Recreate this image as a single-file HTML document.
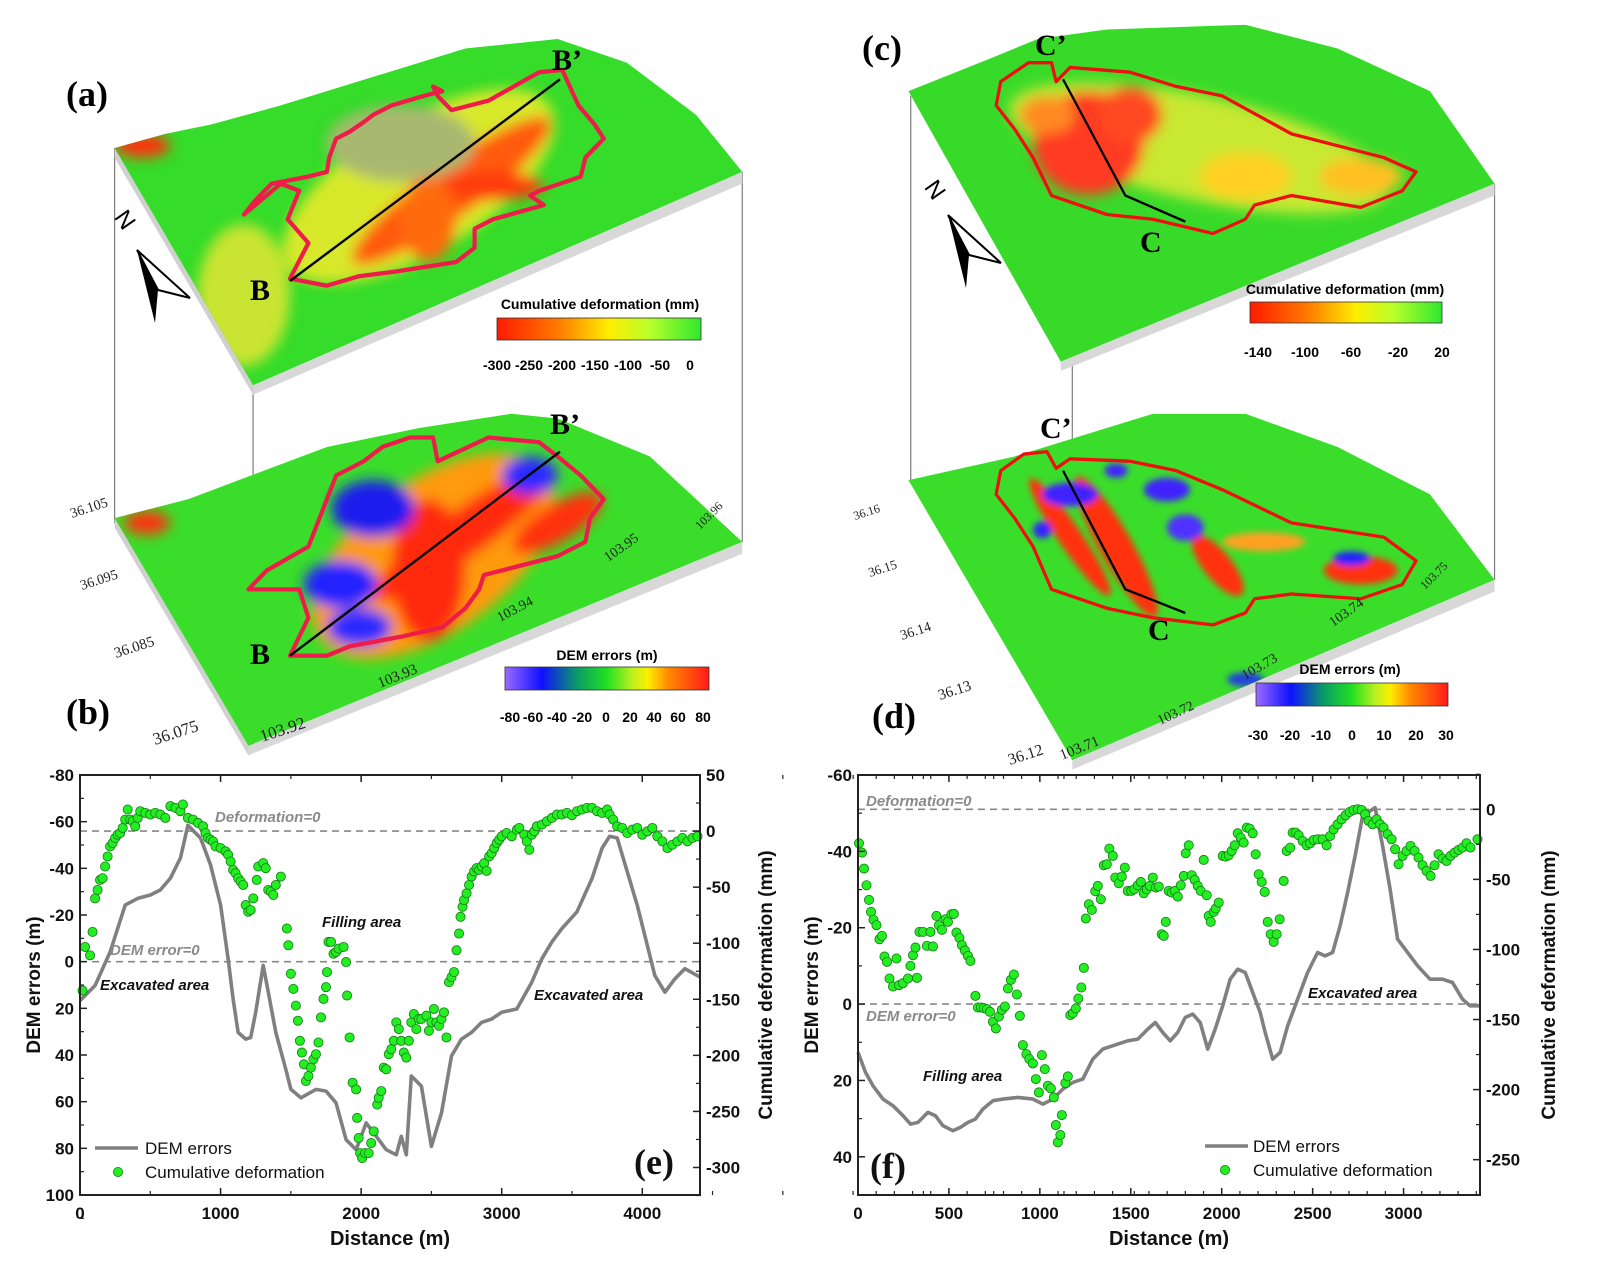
<!DOCTYPE html>
<html><head><meta charset="utf-8"><style>
body{margin:0;background:#fff}
svg{display:block}
.t{font-family:"Liberation Sans",sans-serif;font-weight:bold}
.s{font-family:"Liberation Serif",serif;font-weight:bold}
</style></head><body>
<svg id="S" width="1597" height="1284" viewBox="0 0 1597 1284" xmlns="http://www.w3.org/2000/svg">
<defs>
<filter id="bl" x="-50%" y="-50%" width="200%" height="200%"><feGaussianBlur stdDeviation="14"/></filter>
<filter id="bl2" x="-50%" y="-50%" width="200%" height="200%"><feGaussianBlur stdDeviation="7"/></filter>
<linearGradient id="gdef" x1="0" x2="1"><stop offset="0" stop-color="#ff1a00"/><stop offset="0.3" stop-color="#ff7a00"/><stop offset="0.55" stop-color="#ffee00"/><stop offset="0.75" stop-color="#b8ff2a"/><stop offset="1" stop-color="#2ee82e"/></linearGradient>
<linearGradient id="gdem" x1="0" x2="1"><stop offset="0" stop-color="#9a6bff"/><stop offset="0.18" stop-color="#1010ff"/><stop offset="0.35" stop-color="#0a9a6a"/><stop offset="0.5" stop-color="#22e022"/><stop offset="0.62" stop-color="#b8f020"/><stop offset="0.7" stop-color="#ffee00"/><stop offset="0.8" stop-color="#ff8a00"/><stop offset="1" stop-color="#ff1a1a"/></linearGradient>
<clipPath id="ca"><polygon points="140,270 250,240 350,220 500,180 700,120 900,60 1000,50 1100,40 1250,90 1400,200 1500,320 440,770"/></clipPath>
<clipPath id="cb"><polygon points="140,1050 300,1010 600,900 800,860 1000,830 1100,840 1300,920 1500,1100 430,1530"/></clipPath>
<clipPath id="cc"><polygon points="170,150 350,80 450,40 600,20 900,10 1100,60 1300,150 1440,345 500,720"/></clipPath>
<clipPath id="cd"><polygon points="170,970 400,920 700,830 900,830 1100,900 1300,1000 1440,1180 525,1560"/></clipPath>
</defs>

<g transform="translate(50,20) scale(0.4615,0.4744)">
 <g stroke="#777" stroke-width="2.5" fill="none">
  <line x1="140" y1="270" x2="140" y2="1060"/><line x1="440" y1="770" x2="440" y2="1530"/><line x1="1500" y1="320" x2="1500" y2="1100"/>
 </g>
 <polygon points="440,770 1500,320 1500,345 440,790" fill="#d8d8d8"/>
 <polygon points="430,1530 1500,1100 1500,1125 430,1550" fill="#d8d8d8"/>
 <polygon points="140,270 440,770 440,790 140,290" fill="#d0d0d0"/>
 <polygon points="140,1050 430,1530 430,1550 140,1070" fill="#d0d0d0"/>
 <g clip-path="url(#ca)">
  <rect x="0" y="0" width="1600" height="900" fill="#35dc2a"/>
  <g filter="url(#bl)">
   <ellipse cx="800" cy="350" rx="330" ry="140" fill="#d8e82a" transform="rotate(-30 800 350)"/>
   <ellipse cx="420" cy="580" rx="100" ry="150" fill="#c9e430"/>
   <ellipse cx="870" cy="360" rx="260" ry="55" fill="#ff5a10" transform="rotate(-35 870 360)"/>
   <ellipse cx="960" cy="350" rx="110" ry="30" fill="#ff3a10"/>
   <ellipse cx="820" cy="420" rx="60" ry="90" fill="#ff6a10"/>
   <ellipse cx="760" cy="260" rx="160" ry="80" fill="#a9b870"/>
   <ellipse cx="200" cy="265" rx="60" ry="25" fill="#ff3010"/>
  </g>
 </g>
 <g clip-path="url(#cb)">
  <rect x="0" y="700" width="1600" height="900" fill="#3ade2a"/>
  <g filter="url(#bl)">
   <ellipse cx="830" cy="1130" rx="300" ry="160" fill="#ff9a10" transform="rotate(-35 830 1130)"/>
   <ellipse cx="820" cy="1160" rx="80" ry="150" fill="#ff2a10"/>
   <ellipse cx="900" cy="1080" rx="240" ry="50" fill="#ff2a10" transform="rotate(-35 900 1080)"/>
   <ellipse cx="1100" cy="1060" rx="110" ry="40" fill="#ff3010" transform="rotate(-30 1100 1060)"/>
   <ellipse cx="630" cy="1190" rx="80" ry="50" fill="#2020ff"/>
   <ellipse cx="670" cy="1280" rx="70" ry="40" fill="#2a2aff"/>
   <ellipse cx="700" cy="1030" rx="90" ry="60" fill="#1a1aee"/>
   <ellipse cx="1040" cy="960" rx="60" ry="40" fill="#2a2aff"/>
   <ellipse cx="210" cy="1060" rx="50" ry="25" fill="#ff3010"/>
  </g>
 </g>
 <polygon points="520,545 560,470 515,420 540,360 500,345 420,410 445,380 480,345 560,330 600,320 605,290 620,250 650,235 680,215 700,200 740,180 810,160 850,150 830,140 840,160 870,190 950,170 1060,110 1110,105 1145,180 1180,220 1200,250 1160,290 1150,330 1060,360 1040,370 1070,390 960,420 920,440 920,480 880,510 750,530 670,540 600,560" fill="none" stroke="#ee1c4a" stroke-width="9" stroke-linejoin="round"/>
 <polygon points="520,1340 560,1260 540,1200 430,1200 470,1160 560,1110 600,1010 620,960 680,930 720,900 780,880 830,880 840,930 950,880 1060,890 1100,920 1150,960 1200,1010 1170,1050 1160,1100 1100,1130 1020,1150 940,1170 930,1200 900,1240 850,1280 760,1300 650,1320 600,1340" fill="none" stroke="#ee1c4a" stroke-width="9" stroke-linejoin="round"/>
 <line x1="520" y1="550" x2="1105" y2="125" stroke="#000" stroke-width="5"/>
 <line x1="520" y1="1340" x2="1105" y2="910" stroke="#000" stroke-width="5"/>
</g>

<g transform="translate(830,20) scale(0.4615,0.4744)">
 <g stroke="#777" stroke-width="2.5" fill="none">
  <line x1="175" y1="160" x2="175" y2="975"/><line x1="525" y1="720" x2="525" y2="1560"/><line x1="1440" y1="345" x2="1440" y2="1180"/>
 </g>
 <polygon points="500,720 1440,345 1440,370 500,740" fill="#d8d8d8"/>
 <polygon points="525,1560 1440,1180 1440,1205 525,1580" fill="#d8d8d8"/>
 <g clip-path="url(#cc)">
  <rect x="0" y="0" width="1600" height="800" fill="#38da2a"/>
  <g filter="url(#bl)">
   <ellipse cx="800" cy="270" rx="420" ry="110" fill="#c8e830" transform="rotate(12 800 270)"/>
   <ellipse cx="560" cy="260" rx="120" ry="110" fill="#ff3a20"/>
   <ellipse cx="650" cy="200" rx="70" ry="60" fill="#ff4a20"/>
   <ellipse cx="470" cy="200" rx="60" ry="40" fill="#ff8a20"/>
   <ellipse cx="900" cy="330" rx="100" ry="50" fill="#ffd020"/>
   <ellipse cx="1150" cy="330" rx="90" ry="40" fill="#ffc020"/>
  </g>
 </g>
 <g clip-path="url(#cd)">
  <rect x="0" y="800" width="1600" height="800" fill="#3ade2a"/>
  <g filter="url(#bl2)">
   <ellipse cx="620" cy="1110" rx="170" ry="35" fill="#ff3010" transform="rotate(60 620 1110)"/>
   <ellipse cx="520" cy="1090" rx="150" ry="25" fill="#ff3010" transform="rotate(55 520 1090)"/>
   <ellipse cx="840" cy="1150" rx="80" ry="30" fill="#ff3010" transform="rotate(50 840 1150)"/>
   <ellipse cx="1150" cy="1160" rx="80" ry="30" fill="#ff3010"/>
   <ellipse cx="940" cy="1100" rx="90" ry="20" fill="#ffa020"/>
   <ellipse cx="520" cy="1000" rx="60" ry="25" fill="#4020ff"/>
   <ellipse cx="730" cy="990" rx="50" ry="25" fill="#4020ff"/>
   <ellipse cx="770" cy="1070" rx="40" ry="28" fill="#5030ff"/>
   <ellipse cx="460" cy="1075" rx="20" ry="18" fill="#3020ff"/>
   <ellipse cx="1130" cy="1135" rx="40" ry="15" fill="#2020ff"/>
   <ellipse cx="620" cy="950" rx="25" ry="15" fill="#4020ff"/>
   <ellipse cx="900" cy="1390" rx="40" ry="15" fill="#2040dd"/>
  </g>
 </g>
 <polygon points="490,130 480,90 430,90 370,130 360,180 400,230 440,290 480,370 600,410 700,420 830,450 900,420 920,390 1000,370 1150,395 1240,360 1270,320 1200,290 1000,240 850,160 750,140 650,110 520,100" fill="none" stroke="#ee1010" stroke-width="7" stroke-linejoin="round"/>
 <polygon points="490,945 470,910 420,915 370,950 360,1000 400,1050 440,1110 480,1200 600,1240 700,1260 830,1275 900,1250 920,1220 1000,1210 1150,1220 1240,1190 1270,1140 1200,1090 1000,1060 850,990 750,950 650,930 520,925" fill="none" stroke="#ee1010" stroke-width="7" stroke-linejoin="round"/>
 <polyline points="505,125 640,370 770,425" fill="none" stroke="#000" stroke-width="5"/>
 <polyline points="505,950 640,1200 770,1250" fill="none" stroke="#000" stroke-width="5"/>
</g>

<polygon points="137,250 158,290 155,323" fill="#000"/>
<polygon points="137,250 190,298 158,290" fill="#fff" stroke="#000" stroke-width="2"/>
<text x="112" y="230" font-family="Liberation Sans,sans-serif" font-size="24" transform="rotate(55 125 225)">N</text>
<polygon points="948,215 969,255 966,288" fill="#000"/>
<polygon points="948,215 1001,263 969,255" fill="#fff" stroke="#000" stroke-width="2"/>
<text x="922" y="200" font-family="Liberation Sans,sans-serif" font-size="24" transform="rotate(55 935 195)">N</text>

<g class="s" font-size="36">
<text x="66" y="106">(a)</text><text x="66" y="724">(b)</text><text x="862" y="60">(c)</text><text x="872" y="728">(d)</text>
</g>
<g class="s" font-size="30">
<text x="552" y="70">B’</text><text x="250" y="300">B</text><text x="550" y="434">B’</text><text x="250" y="664">B</text>
<text x="1035" y="55">C’</text><text x="1140" y="252">C</text><text x="1040" y="438">C’</text><text x="1148" y="640">C</text>
</g>

<g class="t" font-size="14" text-anchor="middle">
 <text x="600" y="309">Cumulative deformation (mm)</text>
 <rect x="497" y="318" width="204" height="22" fill="url(#gdef)" stroke="#333" stroke-width="0.8"/>
 <text x="497" y="370">-300</text><text x="529" y="370">-250</text><text x="562" y="370">-200</text><text x="595" y="370">-150</text><text x="628" y="370">-100</text><text x="660" y="370">-50</text><text x="690" y="370">0</text>
 <text x="607" y="660">DEM errors (m)</text>
 <rect x="505" y="667" width="204" height="23" fill="url(#gdem)" stroke="#333" stroke-width="0.8"/>
 <text x="510" y="722">-80</text><text x="533" y="722">-60</text><text x="557" y="722">-40</text><text x="582" y="722">-20</text><text x="606" y="722">0</text><text x="630" y="722">20</text><text x="654" y="722">40</text><text x="678" y="722">60</text><text x="703" y="722">80</text>
 <text x="1345" y="294">Cumulative deformation (mm)</text>
 <rect x="1250" y="302" width="192" height="21" fill="url(#gdef)" stroke="#333" stroke-width="0.8"/>
 <text x="1258" y="357">-140</text><text x="1305" y="357">-100</text><text x="1351" y="357">-60</text><text x="1398" y="357">-20</text><text x="1442" y="357">20</text>
 <text x="1350" y="674">DEM errors (m)</text>
 <rect x="1256" y="683" width="192" height="23" fill="url(#gdem)" stroke="#333" stroke-width="0.8"/>
 <text x="1258" y="740">-30</text><text x="1290" y="740">-20</text><text x="1321" y="740">-10</text><text x="1352" y="740">0</text><text x="1384" y="740">10</text><text x="1416" y="740">20</text><text x="1446" y="740">30</text>
</g>
<g font-family="Liberation Serif,serif" font-size="14" fill="#222">
 <text transform="translate(72,518) rotate(-18)">36.105</text>
 <text transform="translate(82,590) rotate(-18)">36.095</text>
 <text transform="translate(116,658) rotate(-18)" font-size="15">36.085</text>
 <text transform="translate(155,745) rotate(-18)" font-size="17">36.075</text>
 <text transform="translate(262,742) rotate(-18)" font-size="17">103.92</text>
 <text transform="translate(380,688) rotate(-22)" font-size="15">103.93</text>
 <text transform="translate(500,622) rotate(-28)">103.94</text>
 <text transform="translate(608,562) rotate(-35)">103.95</text>
 <text transform="translate(700,530) rotate(-45)" font-size="12">103.96</text>
 <text transform="translate(855,520) rotate(-18)" font-size="12">36.16</text>
 <text transform="translate(870,577) rotate(-18)" font-size="13">36.15</text>
 <text transform="translate(902,640) rotate(-18)">36.14</text>
 <text transform="translate(940,700) rotate(-18)" font-size="15">36.13</text>
 <text transform="translate(1010,765) rotate(-18)" font-size="16">36.12</text>
 <text transform="translate(1062,760) rotate(-22)" font-size="15">103.71</text>
 <text transform="translate(1160,725) rotate(-25)">103.72</text>
 <text transform="translate(1245,680) rotate(-30)">103.73</text>
 <text transform="translate(1333,627) rotate(-35)">103.74</text>
 <text transform="translate(1425,590) rotate(-45)" font-size="12">103.75</text>
</g>

<g id="charts"></g>
</svg>
<script>
var NS="http://www.w3.org/2000/svg",G=document.getElementById("charts");
function el(t,a,txt){var e=document.createElementNS(NS,t);for(var k in a)e.setAttribute(k,a[k]);if(txt!=null)e.textContent=txt;G.appendChild(e);return e;}
function txt(x,y,s,o){o=o||{};var a={x:x,y:y,"font-family":"Liberation Sans,sans-serif","font-weight":"bold","font-size":o.fs||17,"text-anchor":o.a||"middle",fill:o.f||"#111"};if(o.it)a["font-style"]="italic";if(o.tr)a.transform=o.tr;if(o.ff)a["font-family"]=o.ff;return el("text",a,s);}
function chart(C){
 var L=C.L,R=C.R,T=C.T,B=C.B;
 function tx(z){return L+(z-C.zx0)*C.sx;} function ty(z){return T+(z-C.zy0)*C.sy;}
 el("line",{x1:L,x2:R,y1:C.dz0,y2:C.dz0,stroke:"#888","stroke-width":1.6,"stroke-dasharray":"7,5"});
 el("line",{x1:L,x2:R,y1:C.dd0,y2:C.dd0,stroke:"#888","stroke-width":1.6,"stroke-dasharray":"7,5"});
 el("polyline",{points:C.line.map(function(p){return tx(p[0]).toFixed(1)+","+ty(p[1]).toFixed(1)}).join(" "),fill:"none",stroke:"#808080","stroke-width":3.6,"stroke-linejoin":"round"});
 C.pts.forEach(function(p){el("circle",{cx:tx(p[0]),cy:ty(p[1]),r:4.6,fill:"#22ee22",stroke:"#157a15","stroke-width":0.8});});
 el("rect",{x:L,y:T,width:R-L,height:B-T,fill:"none",stroke:"#222","stroke-width":2});
 C.lt.forEach(function(t){el("line",{x1:L,x2:L+7,y1:t[0],y2:t[0],stroke:"#222","stroke-width":1.5});txt(L-6,t[0]+6,t[1],{a:"end"});});
 C.rt.forEach(function(t){el("line",{x1:R,x2:R-7,y1:t[0],y2:t[0],stroke:"#222","stroke-width":1.5});txt(R+6,t[0]+6,t[1],{a:"start"});});
 C.bt.forEach(function(t){el("line",{x1:t[0],x2:t[0],y1:B,y2:B-7,stroke:"#222","stroke-width":1.5});el("line",{x1:t[0],x2:t[0],y1:T,y2:T+7,stroke:"#222","stroke-width":1.5});txt(t[0],B+24,t[1]);});
 C.mx.forEach(function(x){el("line",{x1:x,x2:x,y1:B,y2:B-4,stroke:"#222","stroke-width":1.2});el("line",{x1:x,x2:x,y1:T,y2:T+4,stroke:"#222","stroke-width":1.2});});
 C.ml.forEach(function(y){el("line",{x1:L,x2:L+4,y1:y,y2:y,stroke:"#222","stroke-width":1.2});});
 C.mr.forEach(function(y){el("line",{x1:R,x2:R-4,y1:y,y2:y,stroke:"#222","stroke-width":1.2});});
 txt((L+R)/2,B+50,"Distance (m)",{fs:20});
 txt(0,0,"DEM errors (m)",{fs:19,tr:"translate("+(C.yl)+","+((T+B)/2)+") rotate(-90)"});
 txt(0,0,"Cumulative deformation (mm)",{fs:19,tr:"translate("+(C.yr)+","+((T+B)/2)+") rotate(-90)"});
}
var eT=775,eB=1195,eL=80,eR=700;
var lt=[],ml=[];for(var i=0;i<=9;i++){var y=eT+i*420/9;lt.push([y,String(-80+20*i)]);ml.push(y+210/9);}
var rt=[],mr=[],k=56.07;for(var i=0;i<=7;i++){var y=eT+i*k;rt.push([y,String(50-50*i)]);mr.push(y+k/2);}
var sxE=620/1235,bt=[],mx=[];for(var i=0;i<=4;i++){var x=eL+i*280*sxE;bt.push([x,String(1000*i)]);}for(var i=0;i<=15;i++){mx.push(eL+i*140*sxE);}
chart({L:eL,R:eR,T:eT,B:eB,zx0:160,zy0:112,sx:sxE,sy:420/1253,dz0:eT+k,dd0:eT+80*420/180,lt:lt,rt:rt,bt:bt,mx:mx,ml:ml,mr:mr,yl:40,yr:772,
line:[[160,785],[190,740],[220,640],[250,500],[275,480],[300,470],[320,455],[340,420],[360,360],[375,262],[400,300],[420,380],[440,500],[455,660],[465,780],[475,880],[490,900],[500,895],[510,820],[525,680],[535,760],[550,880],[570,990],[580,1050],[600,1075],[630,1050],[650,1055],[670,1090],[690,1200],[710,1230],[730,1150],[750,1190],[770,1230],[790,1245],[800,1190],[810,1245],[820,1010],[840,1040],[860,1220],[880,1120],[900,950],[920,900],[940,880],[960,850],[980,840],[1000,820],[1030,810],[1060,730],[1080,660],[1100,610],[1120,570],[1150,520],[1180,420],[1200,330],[1215,295],[1230,300],[1250,400],[1270,500],[1290,620],[1305,710],[1325,760],[1345,720],[1365,690],[1395,715]],
pts:[[165,755],[170,625],[180,650],[185,580],[190,480],[195,455],[200,425],[205,420],[210,385],[215,355],[220,325],[225,315],[230,300],[235,290],[240,285],[245,270],[250,245],[255,215],[260,245],[265,250],[270,265],[275,240],[280,220],[290,225],[300,230],[310,225],[320,230],[330,240],[340,205],[350,210],[360,220],[365,200],[375,240],[385,245],[395,255],[405,265],[410,285],[415,300],[420,305],[425,310],[430,325],[440,330],[450,340],[455,350],[460,370],[465,395],[470,405],[475,420],[480,430],[485,440],[490,500],[495,520],[500,515],[505,480],[512,425],[515,385],[525,375],[530,390],[535,455],[540,460],[545,470],[550,440],[560,415],[572,570],[575,620],[580,705],[585,750],[590,800],[594,845],[598,905],[602,940],[606,975],[610,1025],[615,1010],[620,985],[625,960],[630,945],[635,910],[640,835],[645,780],[650,745],[652,700],[655,610],[660,610],[665,645],[670,640],[675,630],[685,625],[690,670],[692,770],[697,895],[703,1030],[710,1050],[712,1135],[715,1195],[718,1240],[722,1255],[728,1240],[735,1240],[740,1210],[745,1175],[752,1095],[755,1075],[760,1055],[765,985],[770,990],[775,945],[780,930],[785,905],[790,850],[795,870],[800,905],[805,940],[810,955],[815,905],[820,850],[825,825],[830,870],[835,840],[840,840],[850,830],[855,875],[860,850],[865,810],[870,850],[875,860],[880,840],[885,820],[890,895],[895,730],[900,715],[905,700],[910,635],[915,585],[918,535],[922,505],[925,485],[930,465],[935,440],[940,415],[945,400],[950,390],[955,395],[960,385],[965,375],[970,398],[975,355],[980,345],[985,330],[990,315],[995,305],[1000,295],[1010,285],[1020,295],[1030,275],[1035,270],[1045,290],[1050,310],[1055,335],[1060,290],[1065,280],[1070,265],[1080,260],[1090,250],[1100,240],[1110,230],[1120,230],[1130,225],[1140,232],[1150,220],[1160,215],[1170,210],[1180,210],[1190,220],[1200,225],[1210,215],[1215,230],[1222,245],[1230,265],[1240,270],[1250,285],[1260,275],[1270,270],[1280,290],[1290,280],[1300,270],[1310,295],[1320,310],[1330,330],[1340,320],[1350,310],[1360,300],[1370,310],[1380,300],[1390,295]]});
var fT=775,fB=1195,fL=858,fR=1480,pu=420/110;
lt=[];ml=[];for(var i=0;i<=5;i++){var y=fT+i*20*pu;lt.push([y,String(-60+20*i)]);ml.push(y+10*pu);}
rt=[];mr=[];var k2=70.07,r0=fT+(210-107)*420/1261;for(var i=0;i<=5;i++){var y=r0+i*k2;rt.push([y,String(-50*i)]);mr.push(y+k2/2);}mr.push(r0-k2/2);
var sxF=622/1245;bt=[];mx=[];for(var i=0;i<=6;i++){bt.push([fL+i*182*sxF,String(500*i)]);}for(var i=0;i<=34;i++){mx.push(fL+i*36.4*sxF);}
chart({L:fL,R:fR,T:fT,B:fB,zx0:150,zy0:107,sx:sxF,sy:420/1261,dz0:r0,dd0:fT+60*pu,lt:lt,rt:rt,bt:bt,mx:mx,ml:ml,mr:mr,yl:818,yr:1555,
line:[[150,940],[165,1000],[180,1040],[200,1080],[220,1100],[240,1130],[255,1155],[270,1150],[290,1120],[305,1130],[320,1160],[340,1175],[355,1165],[370,1150],[385,1140],[400,1110],[420,1085],[440,1080],[470,1075],[500,1080],[520,1095],[540,1080],[560,1050],[580,1030],[600,1020],[620,960],[640,930],[670,915],[690,905],[710,900],[730,870],[745,850],[760,880],[775,905],[790,880],[805,835],[820,825],[835,850],[850,930],[865,870],[880,800],[895,720],[910,690],[925,700],[940,760],[955,820],[965,880],[980,960],[995,940],[1010,860],[1030,780],[1050,700],[1070,640],[1085,650],[1100,640],[1115,560],[1130,460],[1145,350],[1160,230],[1170,220],[1185,205],[1200,320],[1215,450],[1230,600],[1250,640],[1270,680],[1295,720],[1320,720],[1340,730],[1360,780],[1375,800],[1395,800]],
pts:[[152,312],[158,340],[162,388],[167,438],[172,482],[176,518],[181,542],[187,558],[193,600],[198,590],[203,652],[208,668],[213,718],[220,742],[227,658],[232,738],[240,732],[250,718],[255,680],[260,648],[265,625],[268,716],[273,578],[280,578],[288,620],[295,578],[300,622],[307,530],[312,558],[318,572],[325,540],[330,548],[337,525],[342,524],[347,580],[353,596],[358,618],[364,634],[370,650],[375,665],[385,770],[390,805],[396,805],[402,807],[408,810],[414,818],[420,848],[426,868],[432,832],[438,812],[444,802],[450,748],[456,722],[462,706],[468,766],[474,830],[480,918],[487,945],[493,960],[500,973],[506,1020],[512,1060],[518,948],[524,990],[530,1040],[536,1048],[542,1075],[546,1158],[550,1210],[555,1188],[558,1128],[565,1032],[570,1012],[575,828],[580,822],[586,808],[591,778],[597,745],[602,686],[606,538],[612,495],[618,512],[625,456],[630,440],[636,480],[642,378],[648,375],[653,328],[660,350],[665,415],[672,432],[678,412],[684,385],[690,455],[697,455],[703,450],[710,438],[716,428],[722,462],[728,450],[734,440],[740,415],[746,445],[752,442],[758,585],[762,590],[766,548],[772,455],[778,460],[784,455],[790,472],[796,438],[802,410],[806,342],[812,318],[818,408],[824,422],[830,440],[836,455],[842,362],[848,468],[852,530],[856,548],[862,518],[866,508],[872,490],[880,350],[886,352],[892,348],[898,335],[904,318],[910,282],[916,295],[922,310],[928,265],[934,268],[940,282],[946,345],[952,405],[958,428],[964,458],[970,548],[976,585],[982,608],[988,585],[994,540],[1002,425],[1008,335],[1015,325],[1020,280],[1026,280],[1032,288],[1040,305],[1048,318],[1055,312],[1062,302],[1070,300],[1080,300],[1088,318],[1095,290],[1102,270],[1110,255],[1118,240],[1126,228],[1134,218],[1142,212],[1150,210],[1158,212],[1165,225],[1172,245],[1180,255],[1188,240],[1195,255],[1202,265],[1210,285],[1218,300],[1225,330],[1232,375],[1240,350],[1248,335],[1256,320],[1264,335],[1272,355],[1280,378],[1288,395],[1296,410],[1304,378],[1312,345],[1320,358],[1328,365],[1336,350],[1344,340],[1352,332],[1360,325],[1368,312],[1376,325],[1390,300]]});
txt(215,822,"Deformation=0",{a:"start",fs:15,it:1,f:"#8a8a8a"});
txt(110,955,"DEM error=0",{a:"start",fs:15,it:1,f:"#8a8a8a"});
txt(100,990,"Excavated area",{a:"start",fs:15,it:1});
txt(322,927,"Filling area",{a:"start",fs:15,it:1});
txt(534,1000,"Excavated area",{a:"start",fs:15,it:1});
el("line",{x1:95,x2:138,y1:1148,y2:1148,stroke:"#808080","stroke-width":3.6});
txt(145,1154,"DEM errors",{a:"start",fs:17}).setAttribute("font-weight","normal");
el("circle",{cx:118,cy:1172,r:4.6,fill:"#22ee22",stroke:"#157a15","stroke-width":0.8});
txt(145,1178,"Cumulative deformation",{a:"start",fs:17}).setAttribute("font-weight","normal");
txt(634,1174,"(e)",{a:"start",fs:36,ff:"Liberation Serif,serif"});
txt(866,806,"Deformation=0",{a:"start",fs:15,it:1,f:"#8a8a8a"});
txt(866,1021,"DEM error=0",{a:"start",fs:15,it:1,f:"#8a8a8a"});
txt(1308,998,"Excavated area",{a:"start",fs:15,it:1});
txt(923,1081,"Filling area",{a:"start",fs:15,it:1});
el("line",{x1:1205,x2:1248,y1:1146,y2:1146,stroke:"#808080","stroke-width":3.6});
txt(1253,1152,"DEM errors",{a:"start",fs:17}).setAttribute("font-weight","normal");
el("circle",{cx:1225,cy:1170,r:4.6,fill:"#22ee22",stroke:"#157a15","stroke-width":0.8});
txt(1253,1176,"Cumulative deformation",{a:"start",fs:17}).setAttribute("font-weight","normal");
txt(870,1178,"(f)",{a:"start",fs:36,ff:"Liberation Serif,serif"});
</script>
</body></html>
